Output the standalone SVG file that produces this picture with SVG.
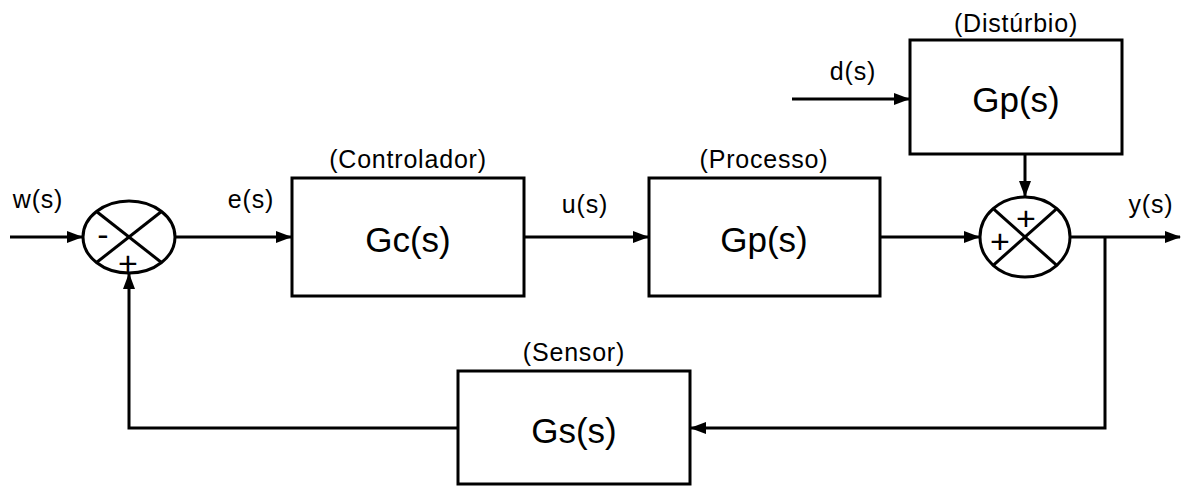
<svg xmlns="http://www.w3.org/2000/svg" width="1181" height="486" viewBox="0 0 1181 486">
<style>
.b{fill:#fff;stroke:#000;stroke-width:3}
.l{fill:none;stroke:#000;stroke-width:3}
.t{font-family:"Liberation Sans",Arial,sans-serif;fill:#000;text-anchor:middle}
.s{font-size:25px;letter-spacing:0.8px}
.g{font-size:35px}
.p{font-size:34px}
</style>
<defs>
<marker id="a" markerWidth="16" markerHeight="12" refX="15" refY="6" orient="auto" markerUnits="userSpaceOnUse">
<path d="M0,0 L16,6 L0,12 Z" fill="#000"/>
</marker>
</defs>
<g id="connectors">
<line class="l" x1="10" y1="237" x2="82" y2="237" marker-end="url(#a)"/>
<line class="l" x1="175" y1="237" x2="291" y2="237" marker-end="url(#a)"/>
<line class="l" x1="524" y1="237" x2="648" y2="237" marker-end="url(#a)"/>
<line class="l" x1="880" y1="237" x2="979" y2="237" marker-end="url(#a)"/>
<line class="l" x1="792" y1="99" x2="909" y2="99" marker-end="url(#a)"/>
<line class="l" x1="1025" y1="154" x2="1025" y2="196" marker-end="url(#a)"/>
<line class="l" x1="1070" y1="237" x2="1180" y2="237" marker-end="url(#a)"/>
<polyline class="l" points="1105,237 1105,428 691,428" marker-end="url(#a)"/>
<polyline class="l" points="458,428 129,428 129,274" marker-end="url(#a)"/>
</g>
<g id="sum1">
<ellipse class="b" cx="129" cy="237" rx="46" ry="36"/>
<line class="l" x1="96.5" y1="211.5" x2="161.5" y2="262.5"/>
<line class="l" x1="161.5" y1="211.5" x2="96.5" y2="262.5"/>
<text class="t p" x="103" y="246">-</text>
<text class="t p" x="128" y="275">+</text>
</g>
<g id="controlador">
<rect class="b" x="292" y="178" width="232" height="118"/>
<text class="t g" x="408" y="252">Gc(s)</text>
<text class="t s" x="408" y="168">(Controlador)</text>
</g>
<g id="processo">
<rect class="b" x="649" y="178" width="231" height="118"/>
<text class="t g" x="764" y="252">Gp(s)</text>
<text class="t s" x="764" y="168">(Processo)</text>
</g>
<g id="disturbio">
<rect class="b" x="910" y="40" width="212" height="114"/>
<text class="t g" x="1016" y="112">Gp(s)</text>
<text class="t s" x="1016" y="32">(Distúrbio)</text>
</g>
<g id="sum2">
<ellipse class="b" cx="1025" cy="237" rx="45" ry="40"/>
<line class="l" x1="993.2" y1="208.7" x2="1056.8" y2="265.3"/>
<line class="l" x1="1056.8" y1="208.7" x2="993.2" y2="265.3"/>
<text class="t p" x="1026" y="230">+</text>
<text class="t p" x="1000" y="253">+</text>
</g>
<g id="sensor">
<rect class="b" x="458" y="371" width="232" height="113"/>
<text class="t g" x="574" y="443">Gs(s)</text>
<text class="t s" x="574" y="361">(Sensor)</text>
</g>
<g id="labels">
<text class="t s" x="38" y="208">w(s)</text>
<text class="t s" x="251" y="208">e(s)</text>
<text class="t s" x="585" y="213">u(s)</text>
<text class="t s" x="853" y="80">d(s)</text>
<text class="t s" x="1151" y="213">y(s)</text>
</g>
</svg>
